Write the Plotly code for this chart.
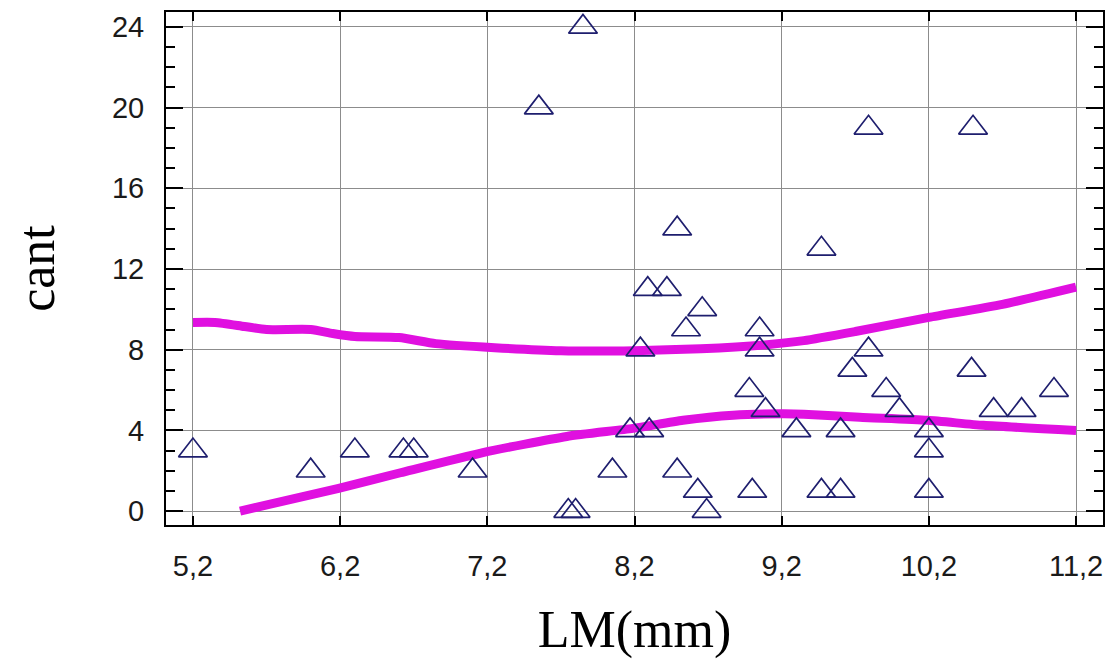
import plotly.graph_objects as go

# Observed points (LM in mm, cant)
lm_pts = [5.2, 6.0, 6.3, 6.63, 6.7, 7.1, 7.75, 7.8, 7.55, 7.85, 8.05, 8.24, 8.17, 8.3,
          8.29, 8.42, 8.49, 8.49, 8.55, 8.66, 8.63, 8.69, 9.0, 8.98, 9.05, 9.05, 9.09,
          9.3, 9.47, 9.6, 9.47, 9.6, 9.68, 9.79, 9.79, 9.91, 10.0, 10.2, 10.2, 10.2,
          10.5, 10.49, 10.64, 10.83, 11.05]
cant_pts = [3, 2, 3, 3, 3, 2, 0, 0, 20, 24, 2, 8, 4, 4,
            11, 11, 14, 2, 9, 10, 1, 0, 1, 6, 9, 8, 5,
            4, 1, 1, 13, 4, 7, 8, 19, 6, 5, 4, 3, 1,
            19, 7, 5, 5, 6]

# Upper limit curve
upper_x = [5.2, 5.35, 5.55, 5.7, 6.0, 6.15, 6.3, 6.6, 6.85, 7.25, 7.7, 8.2, 8.65,
           9.1, 9.35, 9.7, 10.2, 10.7, 11.2]
upper_y = [9.35, 9.35, 9.15, 9.0, 9.0, 8.8, 8.65, 8.6, 8.3, 8.1, 7.95, 7.95, 8.05,
           8.25, 8.45, 8.9, 9.6, 10.25, 11.1]

# Lower limit curve
lower_x = [5.52, 6.19, 6.61, 7.17, 7.74, 8.19, 8.53, 8.87, 9.2, 9.35, 9.73, 10.19,
           10.57, 11.2]
lower_y = [0, 1.13, 1.9, 2.9, 3.7, 4.1, 4.5, 4.75, 4.82, 4.8, 4.65, 4.5, 4.25, 4.0]

MAGENTA = "#e010e0"
NAVY = "#1e1e6e"
GRID = "#8c8c8c"

fig = go.Figure()
fig.add_trace(go.Scatter(x=upper_x, y=upper_y, mode="lines",
                         line=dict(color=MAGENTA, width=9, shape="spline", smoothing=0.6),
                         showlegend=False, hoverinfo="skip"))
fig.add_trace(go.Scatter(x=lower_x, y=lower_y, mode="lines",
                         line=dict(color=MAGENTA, width=9, shape="spline", smoothing=0.6),
                         showlegend=False, hoverinfo="skip"))
fig.add_trace(go.Scatter(x=lm_pts, y=cant_pts, mode="markers",
                         marker=dict(symbol="triangle-up-open", size=25,
                                     color=NAVY, line=dict(color=NAVY, width=1.7)),
                         showlegend=False))

tickfont = dict(family="Liberation Sans", size=29, color="#1a1a1a")
titlefont = dict(family="Liberation Serif", size=52, color="#000000")

fig.update_layout(
    width=1110, height=656,
    margin=dict(l=158, r=15, t=4, b=139),
    paper_bgcolor="white", plot_bgcolor="white",
    separators=",.",
    xaxis=dict(
        range=[5.017, 11.383], tick0=5.2, dtick=1, tickformat=".1f",
        ticks="inside", ticklen=9, tickwidth=2, tickcolor="black",
        showline=True, linecolor="black", linewidth=2, mirror="ticks",
        showgrid=True, gridcolor=GRID, gridwidth=1, zeroline=False,
        tickfont=tickfont, ticklabelstandoff=14,
        title=dict(text="LM(mm)", font=titlefont, standoff=30),
        automargin=False,
    ),
    yaxis=dict(
        range=[-0.69, 24.74], tick0=0, dtick=4,
        ticks="inside", ticklen=17, tickwidth=2, tickcolor="black",
        minor=dict(dtick=1, ticks="inside", ticklen=9, tickwidth=2,
                   tickcolor="black", showgrid=False),
        showline=True, linecolor="black", linewidth=2, mirror="ticks",
        showgrid=True, gridcolor=GRID, gridwidth=1, zeroline=False,
        tickfont=tickfont, ticklabelstandoff=14,
        title=dict(text="cant", font=titlefont, standoff=60),
        automargin=False,
    ),
)

fig.write_html("out.html")
